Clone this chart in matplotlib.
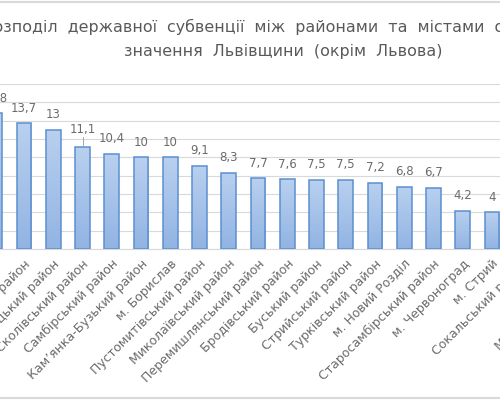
import numpy as np
import matplotlib
matplotlib.use('Agg')
import matplotlib.pyplot as plt
from matplotlib.colors import LinearSegmentedColormap
from matplotlib.lines import Line2D

plt.rcParams['font.family'] = ['DejaVu Sans']

# Data (last three bars are off the visible area)
districts = ["Яворівський район", "Жовківський район", "Городоцький район",
             "Сколівський район", "Самбірський район", "Кам’янка-Бузький район",
             "м. Борислав", "Пустомитівський район", "Миколаївський район",
             "Перемишлянський район", "Бродівський район", "Буський район",
             "Стрийський район", "Турківський район", "м. Новий Розділ",
             "Старосамбірський район", "м. Червоноград", "м. Стрий",
             "Сокальський район", "м. Самбір", "Мостиський район"]
subvention = [14.8, 13.7, 13, 11.1, 10.4, 10, 10, 9.1, 8.3, 7.7, 7.6,
              7.5, 7.5, 7.2, 6.8, 6.7, 4.2, 4, 3.9, 3.6, 3.5]

title_line1 = "Розподіл  державної  субвенції  між  районами  та  містами  обласного"
title_line2 = "значення  Львівщини  (окрім  Львова)"

W, H = 500, 400
fig = plt.figure(figsize=(5, 4), dpi=100)

# the picture is a crop of a wider chart, so the axes run past the figure edges
px_left, px_right = -60, 620
y_bottom, y_top = 249, 84
ax = fig.add_axes([px_left / W, 1 - y_bottom / H,
                   (px_right - px_left) / W, (y_bottom - y_top) / H])

x = np.arange(len(districts))
step = 29.25
ax.set_xlim(1 + (px_left - 24) / step, 1 + (px_right - 24) / step)
ax.set_ylim(0, 18)

bars = ax.bar(x, subvention, width=0.51, color='none', edgecolor='#5b8fd0',
              linewidth=1.1, zorder=3)

grad = LinearSegmentedColormap.from_list('g', ['#92b4e3', '#b9d0ef'])
ramp = np.linspace(0, 1, 64).reshape(-1, 1)
for b in bars:
    x0, w, h = b.get_x(), b.get_width(), b.get_height()
    im = ax.imshow(ramp, cmap=grad, aspect='auto', origin='lower',
                   extent=[x0, x0 + w, 0, h], zorder=2)
    im.set_clip_path(b)

for xi, v in zip(x, subvention):
    txt = f"{v:g}".replace('.', ',')
    off = 13 if txt == "11,1" else 11
    ax.annotate(txt, (xi, v), xytext=(0, off), textcoords='offset points',
                ha='center', va='center', fontsize=8.5, color='#6b6b6b',
                annotation_clip=False)
    if txt == "11,1":
        ax.plot([xi, xi], [v + 0.2, v + 1.1], color='#a6a6a6', lw=0.7, zorder=4)

ax.grid(axis='y', color='#d9d9d9', linewidth=0.8, zorder=0)
ax.set_axisbelow(True)
for s in ['top', 'left', 'right']:
    ax.spines[s].set_visible(False)
ax.spines['bottom'].set_color('#d9d9d9')
ax.set_yticks(np.arange(0, 19, 2))
ax.tick_params(axis='y', left=False, labelleft=False)
ax.tick_params(axis='x', length=0, pad=6)
ax.set_xticks(x)
ax.set_xticklabels(districts, rotation=45, ha='right', va='top',
                   rotation_mode='anchor', fontsize=9, color='#6b6b6b')

fig.text(283 / W, 1 - 27 / H, title_line1, ha='center', va='center',
         fontsize=11.4, color='#595959')
fig.text(283 / W, 1 - 51 / H, title_line2, ha='center', va='center',
         fontsize=11.4, color='#595959')

# frame lines of the original chart
fig.add_artist(Line2D([0, 1], [1 - 1.5 / H, 1 - 1.5 / H], color='#d9d9d9', lw=1.5))
fig.add_artist(Line2D([0, 1], [1 - 397.5 / H, 1 - 397.5 / H], color='#d9d9d9', lw=1.5))

fig.savefig('out.png', dpi=100)
